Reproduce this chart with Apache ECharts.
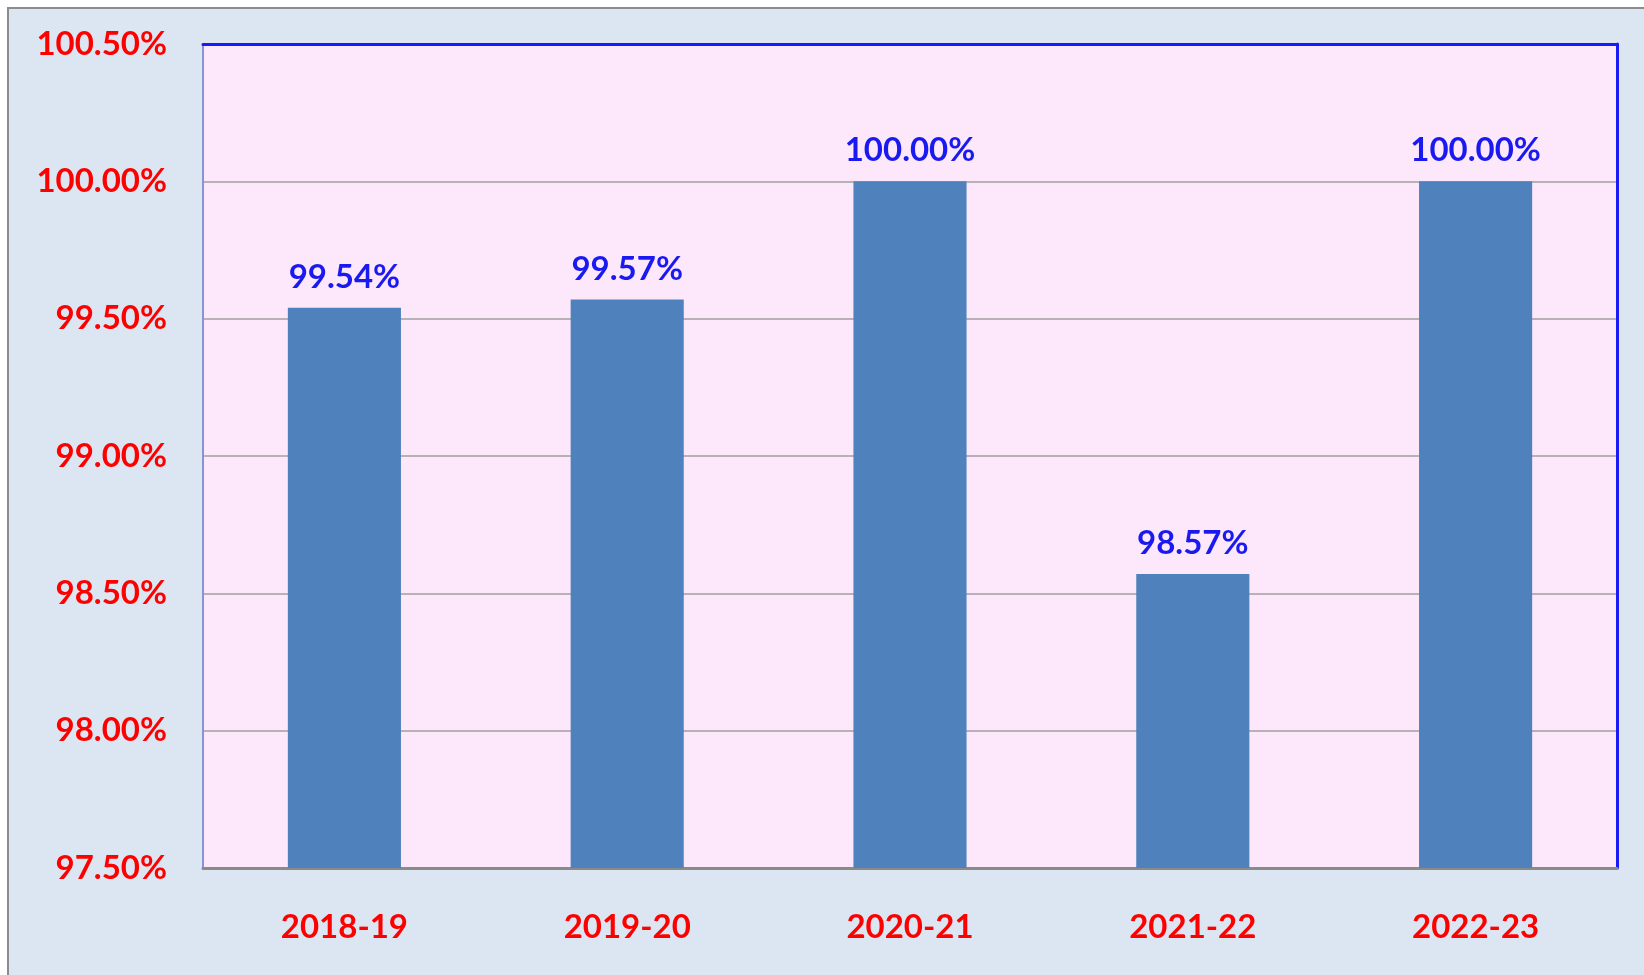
<!DOCTYPE html>
<html><head><meta charset="utf-8">
<script src="https://cdn.jsdelivr.net/npm/echarts@6/dist/echarts.min.js"></script>
<style>
html,body{margin:0;padding:0;background:#fff;width:1644px;height:975px;overflow:hidden}
#frame{position:absolute;left:7px;top:7px;width:1650px;height:980px;background:#dce6f2;border-left:2px solid #8c8c8c;border-top:2px solid #8c8c8c}
#chart{position:absolute;left:0;top:0;width:1644px;height:975px}
</style></head>
<body>
<div id="frame"></div>
<div id="chart"></div>
<script>
const categories = ['2018-19','2019-20','2020-21','2021-22','2022-23'];
const values = [99.54, 99.57, 100.00, 98.57, 100.00];
const yMin = 97.5, yMax = 100.5, yStep = 0.5;

const font = 'Lato, "Open Sans", sans-serif';
const chart = echarts.init(document.getElementById('chart'), null, {renderer:'canvas'});
chart.setOption({
  backgroundColor: 'transparent',
  animation: false,
  grid: {left: 203, top: 44, right: 27, bottom: 107, show: true,
         backgroundColor: '#fde8fb', borderWidth: 0},
  xAxis: [{
    type: 'category', data: categories,
    axisLine: {show: true, lineStyle: {color: '#8a8a8a', width: 3}},
    axisTick: {show: false},
    axisLabel: {color: '#ff0000', fontFamily: font, fontWeight: 'bold', fontSize: 33, margin: 43}
  }, {
    type: 'category', data: categories, position: 'top',
    axisLine: {show: true, lineStyle: {color: '#1a1af5', width: 3}},
    axisTick: {show: false}, axisLabel: {show: false}
  }],
  yAxis: [{
    type: 'value', min: yMin, max: yMax, interval: yStep,
    axisLine: {show: true, lineStyle: {color: '#8494d6', width: 2}},
    axisTick: {show: false},
    splitLine: {lineStyle: {color: '#a0a0a0', width: 1.5}},
    axisLabel: {color: '#ff0000', fontFamily: font, fontWeight: 'bold', fontSize: 33, margin: 36,
      formatter: v => v.toFixed(2) + '%'}
  }, {
    type: 'value', min: yMin, max: yMax, interval: yStep, position: 'right',
    axisLine: {show: true, lineStyle: {color: '#1a1af5', width: 3}},
    axisTick: {show: false}, axisLabel: {show: false}, splitLine: {show: false}
  }],
  series: [{
    type: 'bar', data: values, barWidth: '40%',
    itemStyle: {color: '#4f81bd'},
    label: {show: true, position: 'top', distance: 14, color: '#1a1af0',
      fontFamily: font, fontWeight: 'bold', fontSize: 33,
      formatter: p => p.value.toFixed(2) + '%'}
  }]
});
</script>
</body></html>
